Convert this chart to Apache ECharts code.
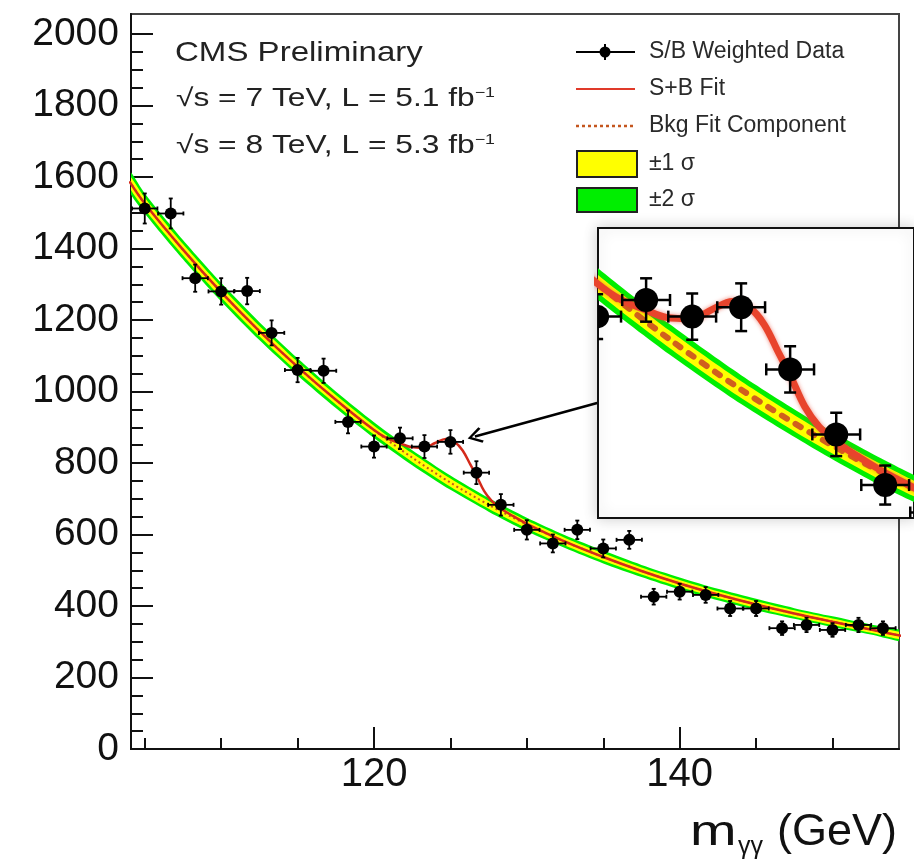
<!DOCTYPE html>
<html>
<head>
<meta charset="utf-8">
<script src="https://cdn.jsdelivr.net/npm/echarts@6/dist/echarts.min.js"></script>
<style>
  html, body { margin: 0; padding: 0; background: #fff; }
  #chart { width: 914px; height: 860px; }
</style>
</head>
<body>
<div id="chart"></div>
<script>
// Diphoton invariant-mass spectrum, S/B weighted, 7 + 8 TeV combined.

// Binned data: bin centre (GeV), weighted events, vertical uncertainty
const massBins = [105.0, 106.7, 108.3, 110.0, 111.7, 113.3, 115.0, 116.7, 118.3, 120.0,
                  121.7, 123.3, 125.0, 126.7, 128.3, 130.0, 131.7, 133.3, 135.0, 136.7,
                  138.3, 140.0, 141.7, 143.3, 145.0, 146.7, 148.3, 150.0, 151.7, 153.3];
const weightedEvents = [1512, 1498, 1317, 1280, 1281, 1164, 1060, 1058, 915, 846,
                        869, 846, 859, 773, 683, 613, 575, 613, 561, 585,
                        426, 440, 431, 393, 393, 338, 347, 333, 347, 338];
const eventErrors = [42, 42, 38, 37, 37, 35, 34, 34, 32, 31,
                     30, 32, 33, 32, 30, 27, 25, 26, 25, 25,
                     22, 22, 22, 21, 21, 19, 20, 19, 20, 19];
const binHalfWidth = 0.83;

// Background-only fit with its 1 and 2 sigma uncertainty bands
const fitMass = [104.0, 105.0, 107.5, 110.0, 112.5, 115.0, 117.5, 120.0, 122.5, 125.0, 127.5,
                 130.0, 132.5, 135.0, 137.5, 140.0, 142.5, 145.0, 147.5, 150.0, 152.5, 155.0];
const bkgFit = [1588, 1526, 1397, 1278, 1169, 1069, 977, 892, 815, 745, 683,
                628, 580, 537, 498, 463, 432, 404, 379, 356, 334, 312];
const sigma1 = [16, 16, 15.5, 15, 14.5, 14, 13, 12.5, 12, 11.5, 11,
                11, 10.5, 10.5, 10, 10, 9.5, 9.5, 9, 9, 8.5, 8.5];
const sigma2 = [28, 28, 27, 26, 25, 24, 23, 22, 21, 20, 19,
                19, 18, 18, 17, 17, 16, 16, 15, 15, 14, 14];

// Signal + background fit
const sbMass = [104.0, 105.0, 107.5, 110.0, 112.5, 115.0, 117.5, 120.0, 120.8, 121.7,
                122.4, 123.3, 124.0, 124.7, 125.3, 125.8, 126.3, 126.7, 127.2, 127.7,
                128.3, 129.0, 130.0, 132.5, 135.0, 137.5, 140.0, 142.5, 145.0, 147.5,
                150.0, 152.5, 155.0];
const sbFit = [1588, 1526, 1397, 1278, 1169, 1069, 977, 892, 870, 855,
               845, 843, 856, 867, 858, 835, 796, 765, 722, 694,
               673, 654, 630, 580, 537, 498, 463, 432, 404, 379,
               356, 334, 312];

// Axis ticks
const xTicksMajor = [120, 140];
const xTicksMinor = [105, 110, 115, 125, 130, 135, 145, 150];
const yTicksMajor = [0, 200, 400, 600, 800, 1000, 1200, 1400, 1600, 1800, 2000];
const yTicksMinor = [50, 100, 150, 250, 300, 350, 450, 500, 550, 650, 700, 750, 850, 900, 950,
                     1050, 1100, 1150, 1250, 1300, 1350, 1450, 1500, 1550, 1650, 1700, 1750,
                     1850, 1900, 1950];

// Ranges of the main frame and of the zoomed inset
const mainX = [104.1, 154.35], mainY = [0, 2056];
const insetX = [120.03, 131.0], insetY = [567.4, 968.6];
// Arrow from the inset to the excess
const arrowFrom = [134.6, 968], arrowTo = [126.6, 874];

const FONT = '"Liberation Sans", Arial, Helvetica, sans-serif';
const GREEN = '#00ee00', YELLOW = '#ffff00';
const chart = echarts.init(document.getElementById('chart'));

function pairs(xs, ys) { return xs.map((x, i) => [x, ys[i]]); }

// Filled band between two curves sampled on fitMass
function bandRenderer(lowerArr, upperArr, color) {
  return function (params, api) {
    if (params.dataIndex !== 0) return null;
    const up = fitMass.map((m, i) => api.coord([m, upperArr[i]]));
    const lo = fitMass.map((m, i) => api.coord([m, lowerArr[i]])).reverse();
    return { type: 'polygon', shape: { points: up.concat(lo), smooth: 0.25 },
             style: { fill: color, stroke: null } };
  };
}

function bandSeries(axisIdx, z) {
  const lo2 = bkgFit.map((b, i) => b - sigma2[i]);
  const hi2 = bkgFit.map((b, i) => b + sigma2[i]);
  const lo1 = bkgFit.map((b, i) => b - sigma1[i]);
  const hi1 = bkgFit.map((b, i) => b + sigma1[i]);
  const seed = [[fitMass[0], bkgFit[0]]];
  const base = { type: 'custom', xAxisIndex: axisIdx, yAxisIndex: axisIdx, data: seed,
                 silent: true, clip: true, encode: { x: 0, y: 1 } };
  return [
    Object.assign({}, base, { z: z, renderItem: bandRenderer(lo2, hi2, GREEN) }),
    Object.assign({}, base, { z: z, renderItem: bandRenderer(lo1, hi1, YELLOW) })
  ];
}

function errorBarRenderer(r, cap, lw) {
  return function (params, api) {
    const m = api.value(0), v = api.value(1), e = api.value(2), h = api.value(3);
    const c = api.coord([m, v]);
    const top = api.coord([m, v + e])[1], bot = api.coord([m, v - e])[1];
    const left = api.coord([m - h, v])[0], right = api.coord([m + h, v])[0];
    const st = { stroke: '#000', lineWidth: lw };
    const kids = [
      { type: 'line', shape: { x1: c[0], y1: top, x2: c[0], y2: bot }, style: st },
      { type: 'line', shape: { x1: left, y1: c[1], x2: right, y2: c[1] }, style: st }
    ];
    if (cap > 0) {
      kids.push(
        { type: 'line', shape: { x1: c[0] - cap, y1: top, x2: c[0] + cap, y2: top }, style: st },
        { type: 'line', shape: { x1: c[0] - cap, y1: bot, x2: c[0] + cap, y2: bot }, style: st },
        { type: 'line', shape: { x1: left, y1: c[1] - cap, x2: left, y2: c[1] + cap }, style: st },
        { type: 'line', shape: { x1: right, y1: c[1] - cap, x2: right, y2: c[1] + cap }, style: st }
      );
    }
    kids.push({ type: 'circle', shape: { cx: c[0], cy: c[1], r: r }, style: { fill: '#000' } });
    return { type: 'group', children: kids };
  };
}

const dataPoints = massBins.map((m, i) => [m, weightedEvents[i], eventErrors[i], binHalfWidth]);

const tickStyle = { color: '#111', width: 2 };
const plainNumber = v => String(v);

const option = {
  backgroundColor: '#fff',
  animation: false,
  grid: [
    { left: 131, top: 14, width: 768, height: 735, show: true, backgroundColor: 'transparent',
      borderColor: '#444', borderWidth: 2, z: 0 },
    { left: 598, top: 228, width: 342, height: 290, show: true, backgroundColor: '#fff',
      borderColor: '#111', borderWidth: 2, z: 10,
      shadowBlur: 14, shadowColor: 'rgba(0,0,0,0.18)' }
  ],
  xAxis: [
    { gridIndex: 0, type: 'value', position: 'bottom', min: mainX[0], max: mainX[1],
      axisLine: { show: true, onZero: false, lineStyle: tickStyle },
      axisTick: { show: true, inside: true, length: 11, customValues: xTicksMinor, lineStyle: tickStyle },
      axisLabel: { show: false }, splitLine: { show: false } },
    { gridIndex: 0, type: 'value', position: 'bottom', min: mainX[0], max: mainX[1],
      axisLine: { show: false },
      axisTick: { show: true, inside: true, length: 22, customValues: xTicksMajor, lineStyle: tickStyle },
      axisLabel: { show: true, customValues: xTicksMajor, formatter: plainNumber, fontSize: 40,
                   fontFamily: FONT, color: '#111', margin: 6 },
      splitLine: { show: false } },
    { gridIndex: 1, type: 'value', min: insetX[0], max: insetX[1], show: false }
  ],
  yAxis: [
    { gridIndex: 0, type: 'value', position: 'left', min: mainY[0], max: mainY[1],
      axisLine: { show: true, onZero: false, lineStyle: tickStyle },
      axisTick: { show: true, inside: true, length: 12, customValues: yTicksMinor, lineStyle: tickStyle },
      axisLabel: { show: false }, splitLine: { show: false } },
    { gridIndex: 0, type: 'value', position: 'left', min: mainY[0], max: mainY[1],
      axisLine: { show: false },
      axisTick: { show: true, inside: true, length: 22, customValues: yTicksMajor, lineStyle: tickStyle },
      axisLabel: { show: true, customValues: yTicksMajor, formatter: plainNumber, fontSize: 39,
                   fontFamily: FONT, color: '#111', margin: 12 },
      splitLine: { show: false } },
    { gridIndex: 1, type: 'value', min: insetY[0], max: insetY[1], show: false }
  ],
  series: [].concat(
    // main frame
    bandSeries(0, 1),
    [
      { type: 'line', xAxisIndex: 0, yAxisIndex: 0, data: pairs(fitMass, bkgFit), smooth: 0.3,
        symbol: 'none', silent: true, z: 2,
        lineStyle: { color: '#c4561e', width: 2, type: [2, 3] } },
      { type: 'line', xAxisIndex: 0, yAxisIndex: 0, data: pairs(sbMass, sbFit), smooth: 0.35,
        symbol: 'none', silent: true, z: 3,
        lineStyle: { color: '#d42a1a', width: 2.5 } },
      { type: 'custom', xAxisIndex: 0, yAxisIndex: 0, data: dataPoints, z: 4, silent: true,
        clip: true, encode: { x: 0, y: 1 }, renderItem: errorBarRenderer(6, 2, 1.8) },
      { type: 'line', xAxisIndex: 0, yAxisIndex: 0, data: [], z: 5, silent: true,
        markLine: {
          silent: true, animation: false,
          symbol: ['none', 'path://M50,0 L100,78 L88,88 L50,26 L12,88 L0,78 Z'],
          symbolSize: [16, 15],
          label: { show: false },
          lineStyle: { color: '#000', width: 2.5, type: 'solid' },
          data: [[{ coord: arrowFrom }, { coord: arrowTo }]]
        } }
    ],
    // zoomed inset
    bandSeries(2, 11),
    [
      { type: 'line', xAxisIndex: 2, yAxisIndex: 2, data: pairs(fitMass, bkgFit), smooth: 0.3,
        symbol: 'none', silent: true, z: 12,
        lineStyle: { color: '#d0601e', width: 6, type: [6, 10], cap: 'round' } },
      { type: 'line', xAxisIndex: 2, yAxisIndex: 2, data: pairs(sbMass, sbFit), smooth: 0.35,
        symbol: 'none', silent: true, z: 13,
        lineStyle: { color: '#e8442c', width: 7, shadowBlur: 4, shadowColor: 'rgba(230,60,40,0.6)' } },
      { type: 'custom', xAxisIndex: 2, yAxisIndex: 2, data: dataPoints, z: 14, silent: true,
        clip: true, encode: { x: 0, y: 1 }, renderItem: errorBarRenderer(12, 6, 2.5) }
    ]
  ),
  graphic: [
    // header text
    { type: 'text', x: 175, y: 53, scaleX: 1.18, z: 20,
      style: { text: 'CMS Preliminary', fontSize: 28, fontFamily: FONT, fill: '#222',
               align: 'left', verticalAlign: 'middle' } },
    { type: 'text', x: 176, y: 99, scaleX: 1.27, z: 20,
      style: { text: '{t|√s = 7 TeV, L = 5.1 fb}{s|−1}', align: 'left', verticalAlign: 'middle',
               rich: { t: { fontSize: 25, fontFamily: FONT, fill: '#222' },
                       s: { fontSize: 14, fontFamily: FONT, fill: '#222', verticalAlign: 'top' } } } },
    { type: 'text', x: 176, y: 146, scaleX: 1.27, z: 20,
      style: { text: '{t|√s = 8 TeV, L = 5.3 fb}{s|−1}', align: 'left', verticalAlign: 'middle',
               rich: { t: { fontSize: 25, fontFamily: FONT, fill: '#222' },
                       s: { fontSize: 14, fontFamily: FONT, fill: '#222', verticalAlign: 'top' } } } },
    // legend
    { type: 'group', z: 20, children: [
      { type: 'line', shape: { x1: 576, y1: 52, x2: 635, y2: 52 }, style: { stroke: '#000', lineWidth: 2 } },
      { type: 'line', shape: { x1: 605, y1: 44, x2: 605, y2: 60 }, style: { stroke: '#000', lineWidth: 2 } },
      { type: 'circle', shape: { cx: 605, cy: 52, r: 5.5 }, style: { fill: '#000' } },
      { type: 'text', x: 649, y: 52, style: { text: 'S/B Weighted Data', fontSize: 23, fontFamily: FONT,
          fill: '#2a2a2a', align: 'left', verticalAlign: 'middle' } },
      { type: 'line', shape: { x1: 576, y1: 89, x2: 635, y2: 89 }, style: { stroke: '#e03a2a', lineWidth: 2 } },
      { type: 'text', x: 649, y: 89, style: { text: 'S+B Fit', fontSize: 23, fontFamily: FONT,
          fill: '#2a2a2a', align: 'left', verticalAlign: 'middle' } },
      { type: 'line', shape: { x1: 576, y1: 126, x2: 635, y2: 126 },
        style: { stroke: '#c4561e', lineWidth: 2.5, lineDash: [3, 3] } },
      { type: 'text', x: 649, y: 126, style: { text: 'Bkg Fit Component', fontSize: 23, fontFamily: FONT,
          fill: '#2a2a2a', align: 'left', verticalAlign: 'middle' } },
      { type: 'rect', shape: { x: 577, y: 151, width: 60, height: 26 },
        style: { fill: YELLOW, stroke: '#222', lineWidth: 2 } },
      { type: 'text', x: 649, y: 164, style: { text: '±1 σ', fontSize: 23, fontFamily: FONT,
          fill: '#2a2a2a', align: 'left', verticalAlign: 'middle' } },
      { type: 'rect', shape: { x: 577, y: 188, width: 60, height: 24 },
        style: { fill: GREEN, stroke: '#222', lineWidth: 2 } },
      { type: 'text', x: 649, y: 200, style: { text: '±2 σ', fontSize: 23, fontFamily: FONT,
          fill: '#2a2a2a', align: 'left', verticalAlign: 'middle' } }
    ] },
    // x-axis title
    { type: 'text', x: 690, y: 833, scaleX: 1.3, z: 20,
      style: { text: 'm', fontSize: 43, fontFamily: FONT, fill: '#111', align: 'left', verticalAlign: 'middle' } },
    { type: 'text', x: 738, y: 847, z: 20,
      style: { text: 'γγ', fontSize: 25, fontFamily: FONT, fill: '#111', align: 'left', verticalAlign: 'middle' } },
    { type: 'text', x: 897, y: 833, z: 20,
      style: { text: '(GeV)', fontSize: 45, fontFamily: FONT, fill: '#111', align: 'right', verticalAlign: 'middle' } }
  ]
};

chart.setOption(option);
</script>
</body>
</html>
